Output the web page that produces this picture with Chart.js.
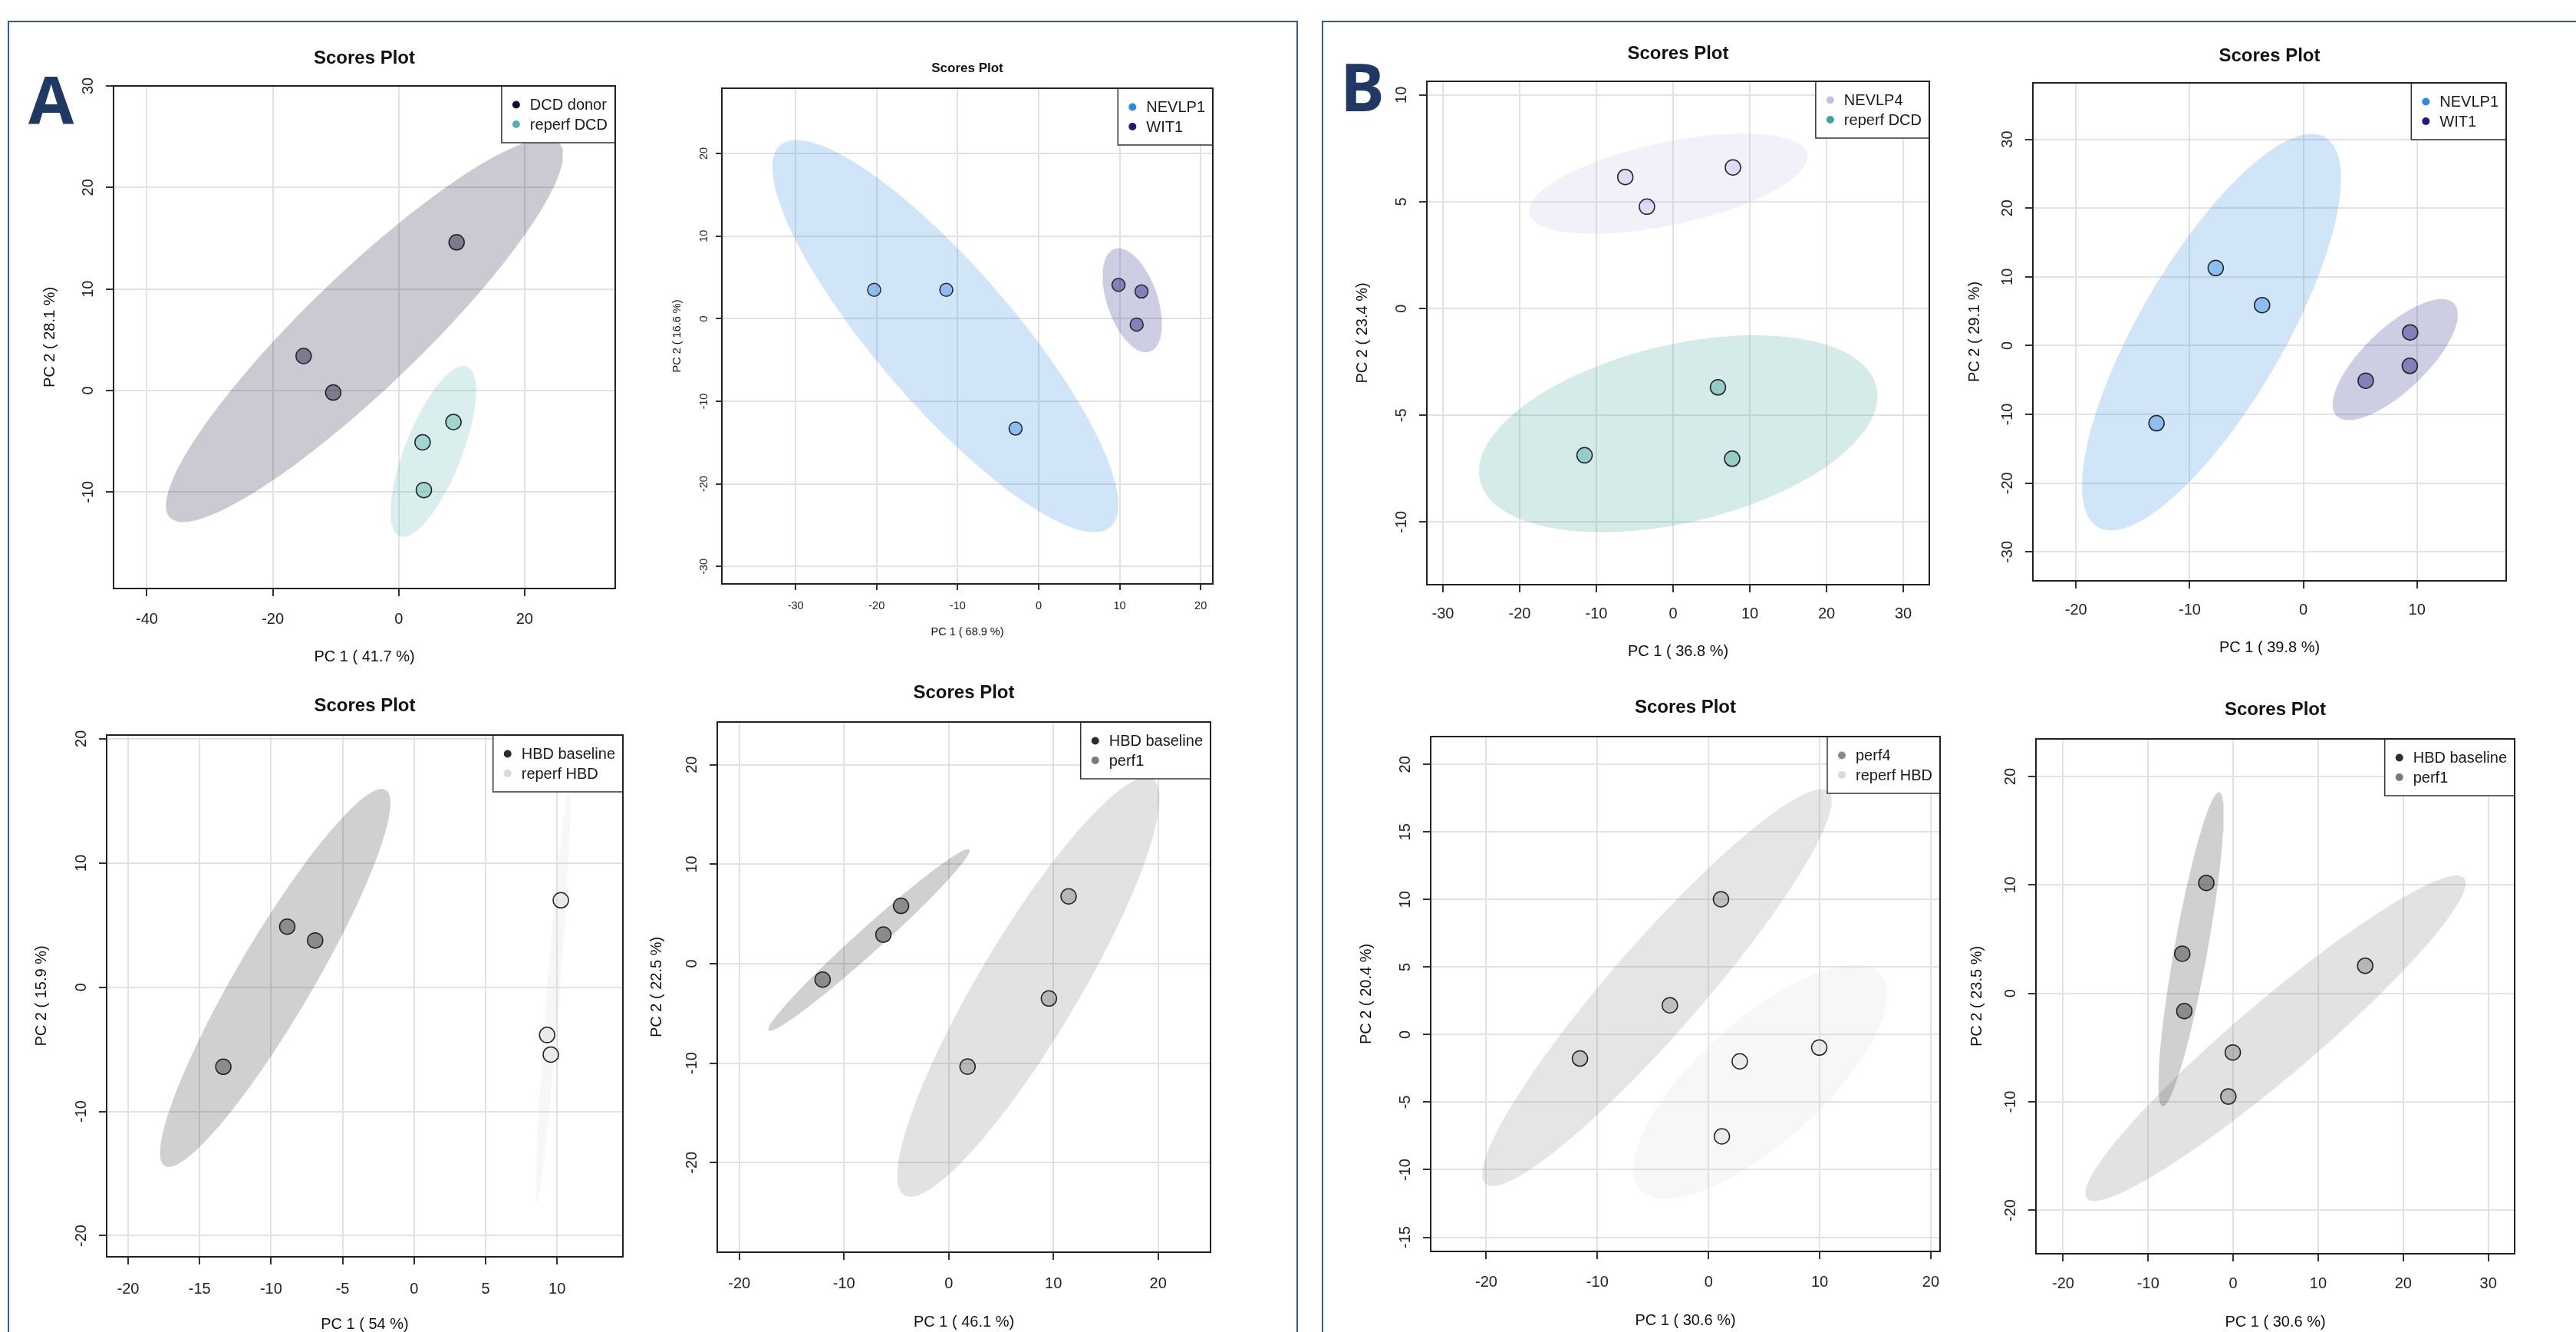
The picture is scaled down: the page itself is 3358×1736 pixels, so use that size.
<!DOCTYPE html>
<html>
<head>
<meta charset="utf-8">
<script src="https://cdn.jsdelivr.net/npm/chart.js@4.4.0/dist/chart.umd.min.js"></script>
<style>
  html, body { margin: 0; padding: 0; background: #fff; width: 3358px; height: 1736px; overflow: hidden; position: relative; }
  .panel { position: absolute; border: 2.5px solid #34589a; box-sizing: border-box; }
  .letter { position: absolute; font: 700 86px "Open Sans", "Liberation Sans", sans-serif; color: #1f3864; line-height: 1; }
  .plot { position: absolute; }
</style>
</head>
<body>
<div class="panel" style="left:10px;top:27px;width:1682px;height:1800px"></div>
<div class="panel" style="left:1723px;top:27px;width:1700px;height:1800px"></div>
<div class="letter" style="left:37px;top:86px">A</div>
<div class="letter" style="left:1747px;top:69px">B</div>

<script>
// ---- data (PC1 / PC2 scores) ----

// A1
const a1Labels = ["DCD donor", "reperf DCD"];
const a1DonorPC1 = [9.2, -15.1, -10.4];
const a1DonorPC2 = [14.6, 3.4, -0.2];
const a1ReperfPC1 = [8.7, 3.8, 4.0];
const a1ReperfPC2 = [-3.1, -5.1, -9.8];
const a1XTicks = [-40, -20, 0, 20];
const a1YTicks = [-10, 0, 10, 20, 30];
const a1Titles = ["PC 1 ( 41.7 %)", "PC 2 ( 28.1 %)"];

// A2
const a2Labels = ["NEVLP1", "WIT1"];
const a2NevlpPC1 = [-20.3, -11.4, -2.85];
const a2NevlpPC2 = [3.5, 3.5, -13.3];
const a2WitPC1 = [9.86, 12.7, 12.1];
const a2WitPC2 = [4.1, 3.3, -0.7];
const a2XTicks = [-30, -20, -10, 0, 10, 20];
const a2YTicks = [-30, -20, -10, 0, 10, 20];
const a2Titles = ["PC 1 ( 68.9 %)", "PC 2 ( 16.6 %)"];

// A3
const a3Labels = ["HBD baseline", "reperf HBD"];
const a3BasePC1 = [-8.87, -6.92, -13.34];
const a3BasePC2 = [4.88, 3.77, -6.40];
const a3ReperfPC1 = [10.26, 9.30, 9.56];
const a3ReperfPC2 = [7.0, -3.84, -5.42];
const a3XTicks = [-20, -15, -10, -5, 0, 5, 10];
const a3YTicks = [-20, -10, 0, 10, 20];
const a3Titles = ["PC 1 ( 54 %)", "PC 2 ( 15.9 %)"];

// A4
const a4Labels = ["HBD baseline", "perf1"];
const a4BasePC1 = [-4.55, -6.24, -12.04];
const a4BasePC2 = [5.82, 2.93, -1.59];
const a4PerfPC1 = [11.45, 9.57, 1.80];
const a4PerfPC2 = [6.77, -3.49, -10.34];
const a4XTicks = [-20, -10, 0, 10, 20];
const a4YTicks = [-20, -10, 0, 10, 20];
const a4Titles = ["PC 1 ( 46.1 %)", "PC 2 ( 22.5 %)"];

// B1
const b1Labels = ["NEVLP4", "reperf DCD"];
const b1NevlpPC1 = [-6.23, -3.41, 7.80];
const b1NevlpPC2 = [6.16, 4.77, 6.61];
const b1ReperfPC1 = [5.85, -11.54, 7.70];
const b1ReperfPC2 = [-3.69, -6.87, -7.03];
const b1XTicks = [-30, -20, -10, 0, 10, 20, 30];
const b1YTicks = [-10, -5, 0, 5, 10];
const b1Titles = ["PC 1 ( 36.8 %)", "PC 2 ( 23.4 %)"];

// B2
const b2Labels = ["NEVLP1", "WIT1"];
const b2NevlpPC1 = [-7.71, -3.63, -12.92];
const b2NevlpPC2 = [11.28, 5.88, -11.28];
const b2WitPC1 = [9.40, 9.37, 5.49];
const b2WitPC2 = [1.92, -2.94, -5.10];
const b2XTicks = [-20, -10, 0, 10];
const b2YTicks = [-30, -20, -10, 0, 10, 20, 30];
const b2Titles = ["PC 1 ( 39.8 %)", "PC 2 ( 29.1 %)"];

// B3
const b3Labels = ["perf4", "reperf HBD"];
const b3PerfPC1 = [1.12, -3.48, -11.57];
const b3PerfPC2 = [10.02, 2.17, -1.77];
const b3ReperfPC1 = [9.96, 2.81, 1.20];
const b3ReperfPC2 = [-0.96, -1.98, -7.53];
const b3XTicks = [-20, -10, 0, 10, 20];
const b3YTicks = [-15, -10, -5, 0, 5, 10, 15, 20];
const b3Titles = ["PC 1 ( 30.6 %)", "PC 2 ( 20.4 %)"];

// B4
const b4Labels = ["HBD baseline", "perf1"];
const b4BasePC1 = [-3.16, -5.99, -5.75];
const b4BasePC2 = [10.19, 3.67, -1.62];
const b4PerfPC1 = [15.52, -0.05, -0.57];
const b4PerfPC2 = [2.55, -5.44, -9.5];
const b4XTicks = [-20, -10, 0, 10, 20, 30];
const b4YTicks = [-20, -10, 0, 10, 20];
const b4Titles = ["PC 1 ( 30.6 %)", "PC 2 ( 23.5 %)"];

// ---- styling / placement ----
const FAMILY = '"Liberation Sans", Arial, Helvetica, sans-serif';
const T95 = Math.sqrt(-2 * Math.log(0.05)); // sqrt(qchisq(0.95, 2)), as ellipse::ellipse

const fontsBig = { title: 24, tick: 20, axis: 20, legend: 20, tickLen: 10, radius: 10, yTickOff: 33 };
const fontsSmall = { title: 17, tick: 14.5, axis: 14.5, legend: 20, tickLen: 8, radius: 8.5, yTickOff: 23 };

function rgba(hex, a) {
  const n = parseInt(hex.slice(1), 16);
  return `rgba(${n >> 16},${(n >> 8) & 255},${n & 255},${a})`;
}

// 95% confidence ellipse of a group, same construction as MetaboAnalyst
function confEllipse(xs, ys) {
  const n = xs.length;
  const mx = xs.reduce((s, v) => s + v, 0) / n;
  const my = ys.reduce((s, v) => s + v, 0) / n;
  let vx = 0, vy = 0, cxy = 0;
  for (let i = 0; i < n; i++) {
    vx += (xs[i] - mx) ** 2;
    vy += (ys[i] - my) ** 2;
    cxy += (xs[i] - mx) * (ys[i] - my);
  }
  vx /= n - 1; vy /= n - 1; cxy /= n - 1;
  const sx = Math.sqrt(vx), sy = Math.sqrt(vy);
  const d = Math.acos(Math.max(-1, Math.min(1, cxy / (sx * sy))));
  const pts = [];
  for (let i = 0; i < 100; i++) {
    const a = 2 * Math.PI * i / 99;
    pts.push({ x: mx + T95 * sx * Math.cos(a + d / 2), y: my + T95 * sy * Math.cos(a - d / 2) });
  }
  return pts;
}

// R-like frame: rotated y labels, boxed legend, plot box
const rFrame = {
  id: "rFrame",
  afterDraw(chart, args, o) {
    const { ctx, chartArea: a, scales: { y } } = chart;
    ctx.save();
    ctx.font = `${o.tickSize}px ${FAMILY}`;
    ctx.fillStyle = "#222";
    ctx.textAlign = "center";
    ctx.textBaseline = "middle";
    y.ticks.forEach(t => {
      ctx.save();
      ctx.translate(a.left - o.yTickOff, y.getPixelForValue(t.value));
      ctx.rotate(-Math.PI / 2);
      ctx.fillText(t.label, 0, 0);
      ctx.restore();
    });

    const items = chart.data.datasets.filter(ds => ds.legendColor);
    ctx.font = `${o.legendSize}px ${FAMILY}`;
    const tw = Math.max(...items.map(ds => ctx.measureText(ds.label).width));
    const w = 37 + tw + 10, h = 74, x0 = a.right - w;
    ctx.fillStyle = "#fff";
    ctx.fillRect(x0, a.top, w, h);
    ctx.lineWidth = 1.5;
    ctx.strokeStyle = "#333";
    ctx.strokeRect(x0, a.top, w, h);
    ctx.textAlign = "left";
    items.forEach((ds, i) => {
      const cy = a.top + 24.5 + i * 25.5;
      ctx.beginPath();
      ctx.arc(x0 + 19, cy, 5, 0, 2 * Math.PI);
      ctx.fillStyle = ds.legendColor;
      ctx.fill();
      ctx.fillStyle = "#1a1a1a";
      ctx.fillText(ds.label, x0 + 37, cy + 1);
    });

    ctx.lineWidth = 2;
    ctx.strokeStyle = "#222";
    ctx.strokeRect(a.left, a.top, a.right - a.left, a.bottom - a.top);
    ctx.restore();
  }
};

// lay: [plotL, plotR, plotT, plotB, titleY, xTickY, xTitleY, yTitleX]
function scoresPlot(lay, f, xRange, yRange, xTicks, yTicks, titles, groups) {
  const [pL, pR, pT, pB, titleY, xTickY, xTitleY, yTitleX] = lay;
  const lhT = f.title * 1.2, lhA = f.axis * 1.2, lhK = f.tick * 1.2;
  const padR = 40;
  const top = Math.round(titleY - lhT / 2);
  const left = Math.round(yTitleX - lhA / 2);
  const plotL = Math.round(pL), plotR = Math.round(pR), plotT = Math.round(pT), plotB = Math.round(pB);
  const W = plotR + padR - left;
  const H = Math.round(xTitleY + lhA / 2) - top;
  const yW = plotL - left;
  const xH = H - (plotB - top);

  const wrap = document.createElement("div");
  wrap.className = "plot";
  Object.assign(wrap.style, { left: left + "px", top: top + "px", width: W + "px", height: H + "px" });
  const canvas = document.createElement("canvas");
  wrap.appendChild(canvas);
  document.body.appendChild(wrap);

  const datasets = [];
  groups.forEach(g => {
    datasets.push({
      type: "line",
      label: g.label + " ellipse",
      data: confEllipse(g.pc1, g.pc2),
      showLine: true,
      fill: "shape",
      backgroundColor: rgba(g.color, 0.22),
      borderColor: "rgba(0,0,0,0)",
      borderWidth: 0,
      pointRadius: 0,
      tension: 0,
      order: 2
    });
  });
  groups.forEach(g => {
    datasets.push({
      label: g.label,
      legendColor: g.color,
      data: g.pc1.map((v, i) => ({ x: v, y: g.pc2[i] })),
      pointRadius: f.radius,
      pointBackgroundColor: rgba(g.color, 0.42),
      pointBorderColor: "#222",
      pointBorderWidth: 1.5,
      order: 1
    });
  });

  const gridOpts = { color: "#e2e2e2", lineWidth: 2, tickColor: "#333", tickWidth: 2, tickLength: f.tickLen };

  new Chart(canvas, {
    type: "scatter",
    data: { datasets },
    options: {
      responsive: true,
      maintainAspectRatio: false,
      animation: false,
      events: [],
      layout: { padding: { left: 0, top: 0, bottom: 0, right: padR } },
      plugins: {
        legend: { display: false },
        tooltip: { enabled: false },
        title: {
          display: true,
          text: "Scores Plot",
          fullSize: false,
          color: "#111",
          font: { family: FAMILY, size: f.title, weight: "bold", lineHeight: 1.2 },
          padding: { top: 0, bottom: (plotT - top) - lhT }
        },
        rFrame: { tickSize: f.tick, legendSize: f.legend, yTickOff: f.yTickOff }
      },
      scales: {
        x: {
          type: "linear",
          min: xRange[0],
          max: xRange[1],
          afterBuildTicks: s => { s.ticks = xTicks.map(v => ({ value: v })); },
          afterFit: s => { s.height = xH; },
          ticks: {
            autoSkip: false,
            maxRotation: 0,
            color: "#222",
            font: { family: FAMILY, size: f.tick, lineHeight: 1.2 },
            padding: xTickY - pB - f.tickLen - lhK / 2
          },
          grid: gridOpts,
          border: { display: false },
          title: { display: true, text: titles[0], color: "#111", padding: 0, font: { family: FAMILY, size: f.axis, lineHeight: 1.2 } }
        },
        y: {
          type: "linear",
          min: yRange[0],
          max: yRange[1],
          afterBuildTicks: s => { s.ticks = yTicks.map(v => ({ value: v })); },
          afterFit: s => { s.width = yW; },
          ticks: { display: false },
          grid: gridOpts,
          border: { display: false },
          title: { display: true, text: titles[1], color: "#111", padding: 0, font: { family: FAMILY, size: f.axis, lineHeight: 1.2 } }
        }
      }
    },
    plugins: [rFrame]
  });
}

// ---- the eight score plots ----
scoresPlot([147.5, 802, 112, 767, 76, 807, 856, 65], fontsBig, [-45.3, 34.4], [-19.5, 30.0], a1XTicks, a1YTicks, a1Titles, [
  { label: a1Labels[0], pc1: a1DonorPC1, pc2: a1DonorPC2, color: "#0e0c33" },
  { label: a1Labels[1], pc1: a1ReperfPC1, pc2: a1ReperfPC2, color: "#52b1ac" }
]);
scoresPlot([941, 1581, 115, 760.5, 89, 789, 824, 883], fontsSmall, [-39.1, 21.5], [-32.1, 27.9], a2XTicks, a2YTicks, a2Titles, [
  { label: a2Labels[0], pc1: a2NevlpPC1, pc2: a2NevlpPC2, color: "#2f87e4" },
  { label: a2Labels[1], pc1: a2WitPC1, pc2: a2WitPC2, color: "#1b1b82" }
]);
scoresPlot([138.8, 811.5, 958, 1638, 920, 1680, 1726, 54], fontsBig, [-21.5, 14.6], [-21.7, 20.3], a3XTicks, a3YTicks, a3Titles, [
  { label: a3Labels[0], pc1: a3BasePC1, pc2: a3BasePC2, color: "#2b2b2b" },
  { label: a3Labels[1], pc1: a3ReperfPC1, pc2: a3ReperfPC2, color: "#d9d9d9" }
]);
scoresPlot([935.4, 1578.2, 941, 1631.6, 903.6, 1673, 1723, 856], fontsBig, [-22.1, 25.0], [-29.0, 24.3], a4XTicks, a4YTicks, a4Titles, [
  { label: a4Labels[0], pc1: a4BasePC1, pc2: a4BasePC2, color: "#2b2b2b" },
  { label: a4Labels[1], pc1: a4PerfPC1, pc2: a4PerfPC2, color: "#7a7a7a" }
]);
scoresPlot([1860, 2514.8, 105.5, 762, 70, 800.8, 849, 1776], fontsBig, [-32.1, 33.4], [-12.93, 10.64], b1XTicks, b1YTicks, b1Titles, [
  { label: b1Labels[0], pc1: b1NevlpPC1, pc2: b1NevlpPC2, color: "#c5bde6" },
  { label: b1Labels[1], pc1: b1ReperfPC1, pc2: b1ReperfPC2, color: "#3fa29c" }
]);
scoresPlot([2650, 3267.2, 108, 756.8, 73.2, 795.3, 843.6, 2574], fontsBig, [-23.8, 17.85], [-34.2, 38.2], b2XTicks, b2YTicks, b2Titles, [
  { label: b2Labels[0], pc1: b2NevlpPC1, pc2: b2NevlpPC2, color: "#2f87e4" },
  { label: b2Labels[1], pc1: b2WitPC1, pc2: b2WitPC2, color: "#1b1b82" }
]);
scoresPlot([1865.3, 2529.4, 959.7, 1631.2, 922.6, 1671.6, 1720.7, 1781.3], fontsBig, [-25.0, 20.83], [-16.05, 22.06], b3XTicks, b3YTicks, b3Titles, [
  { label: b3Labels[0], pc1: b3PerfPC1, pc2: b3PerfPC2, color: "#8a8a8a" },
  { label: b3Labels[1], pc1: b3ReperfPC1, pc2: b3ReperfPC2, color: "#d9d9d9" }
]);
scoresPlot([2654.3, 3277.7, 963, 1634.4, 925.3, 1674.3, 1723.4, 2576.5], fontsBig, [-23.2, 33.1], [-24.0, 23.47], b4XTicks, b4YTicks, b4Titles, [
  { label: b4Labels[0], pc1: b4BasePC1, pc2: b4BasePC2, color: "#2b2b2b" },
  { label: b4Labels[1], pc1: b4PerfPC1, pc2: b4PerfPC2, color: "#7a7a7a" }
]);
</script>
</body>
</html>
